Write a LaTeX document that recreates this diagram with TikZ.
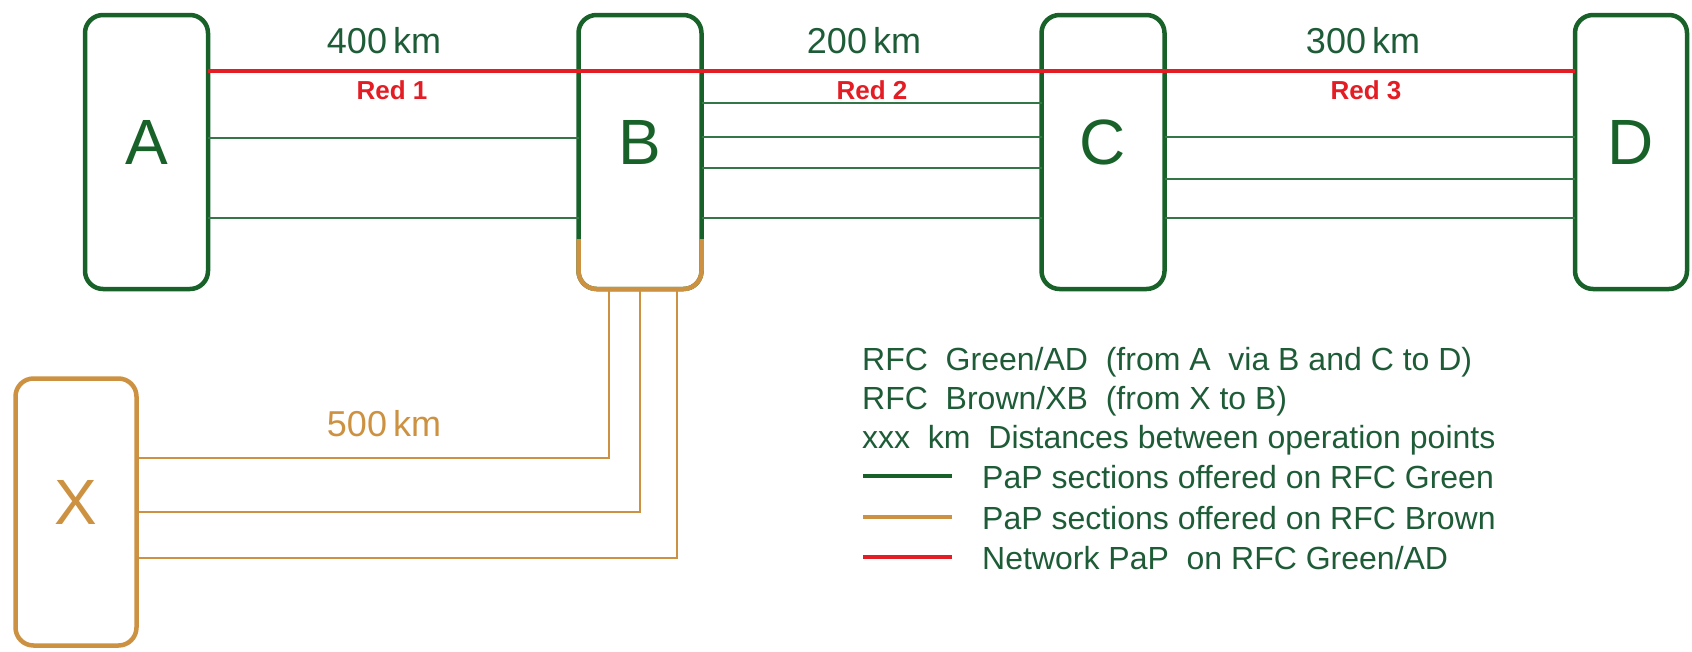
\documentclass[tikz,border=0pt]{standalone}
\usepackage{fontspec}
\setmainfont{Liberation Sans}
\usetikzlibrary{positioning,calc}

\definecolor{rfcgreen}{RGB}{24,98,42}
\definecolor{txtgreen}{RGB}{30,92,56}
\definecolor{papgreen}{RGB}{52,118,72}
\definecolor{rfcbrown}{RGB}{204,146,66}
\definecolor{netred}{RGB}{228,28,36}

\begin{document}
\begin{tikzpicture}[
                x=1pt, y=-1pt,
                stn/.style={draw=rfcgreen, line width=4.5pt, rounded corners=18pt, outer sep=0pt,
                    minimum width=123pt, minimum height=274pt, text=rfcgreen,
                    font=\fontsize{64}{64}\selectfont, text height=46pt, text depth=22pt},
                xstn/.style={stn, draw=rfcbrown, text=rfcbrown, minimum width=121pt, minimum height=267pt},
                pap/.style={papgreen, line width=2pt},
                papb/.style={rfcbrown, line width=2pt},
                net/.style={netred, line width=4pt},
                km/.style={text=txtgreen, font=\fontsize{36}{36}\selectfont},
                redlab/.style={text=netred, font=\bfseries\fontsize{26}{26}\selectfont},
                leg/.style={anchor=base west, inner sep=0pt, text=txtgreen, font=\fontsize{32}{32}\selectfont}
            ]
\useasboundingbox (0,0) rectangle (1692,651);

% operation points
                \node[stn] (A) at (146.5,152) {A};
                \node[stn] (B) at (640,152) {B};
                \node[stn] (C) at (1103,152) {C};
                \node[stn, minimum width=112pt] (D) at (1631,152) {D};
                \node[xstn] (X) at (76,512) {X};

% lower part of B belongs to RFC Brown
                \draw[rfcbrown, line width=4.5pt, rounded corners=18pt]
                    ([yshift=-87pt]B.west) |- (B.south) -| ([yshift=-87pt]B.east);

% PaP sections on RFC Green
                \foreach \dy in {14,-66}
                    \draw[pap] ([yshift=\dy pt]A.east) -- ([yshift=\dy pt]B.west);
                \foreach \dy in {49,15,-16,-66}
                    \draw[pap] ([yshift=\dy pt]B.east) -- ([yshift=\dy pt]C.west);
                \foreach \dy in {15,-27,-66}
                    \draw[pap] ([yshift=\dy pt]C.east) -- ([yshift=\dy pt]D.west);

% PaP sections on RFC Brown
                \draw[papb] ([yshift=54pt]X.east) -| ([xshift=-31pt]B.south);
                \draw[papb] (X.east) -| (B.south);
                \draw[papb] ([yshift=-46pt]X.east) -| ([xshift=37pt]B.south);

% network PaP
                \draw[net] ([yshift=81pt]A.east) -- ([yshift=81pt]D.west);

% distances
                \node[km] (k1) at (384,41) {400\,km};
                \node[km] (k2) at (864,41) {200\,km};
                \node[km] (k3) at (1363,41) {300\,km};
                \node[km, text=rfcbrown] (k4) at (384,424) {500\,km};

                \node[redlab] (r1) at (392,90) {Red 1};
                \node[redlab] (r2) at (872,90) {Red 2};
                \node[redlab] (r3) at (1366,90) {Red 3};

% legend
                \node[leg] (l1) at (862,370) {RFC\ \ Green/AD\ \ (from A\ \ via B and C to D)};
                \node[leg] (l2) at (862,409) {RFC\ \ Brown/XB\ \ (from X to B)};
                \node[leg] (l3) at (862,448) {xxx\ \ km\ \ Distances between operation points};
                \node[leg] (l4) at (982,488) {PaP sections offered on RFC Green};
                \node[leg] (l5) at (982,529) {PaP sections offered on RFC Brown};
                \node[leg] (l6) at (982,569) {Network PaP\ \ on RFC Green/AD};

                \draw[rfcgreen, line width=4pt] (863,476) -- (952,476);
                \draw[rfcbrown, line width=4pt] (863,517) -- (952,517);
                \draw[netred, line width=4pt] (863,557) -- (952,557);

            \end{tikzpicture}
\end{document}
